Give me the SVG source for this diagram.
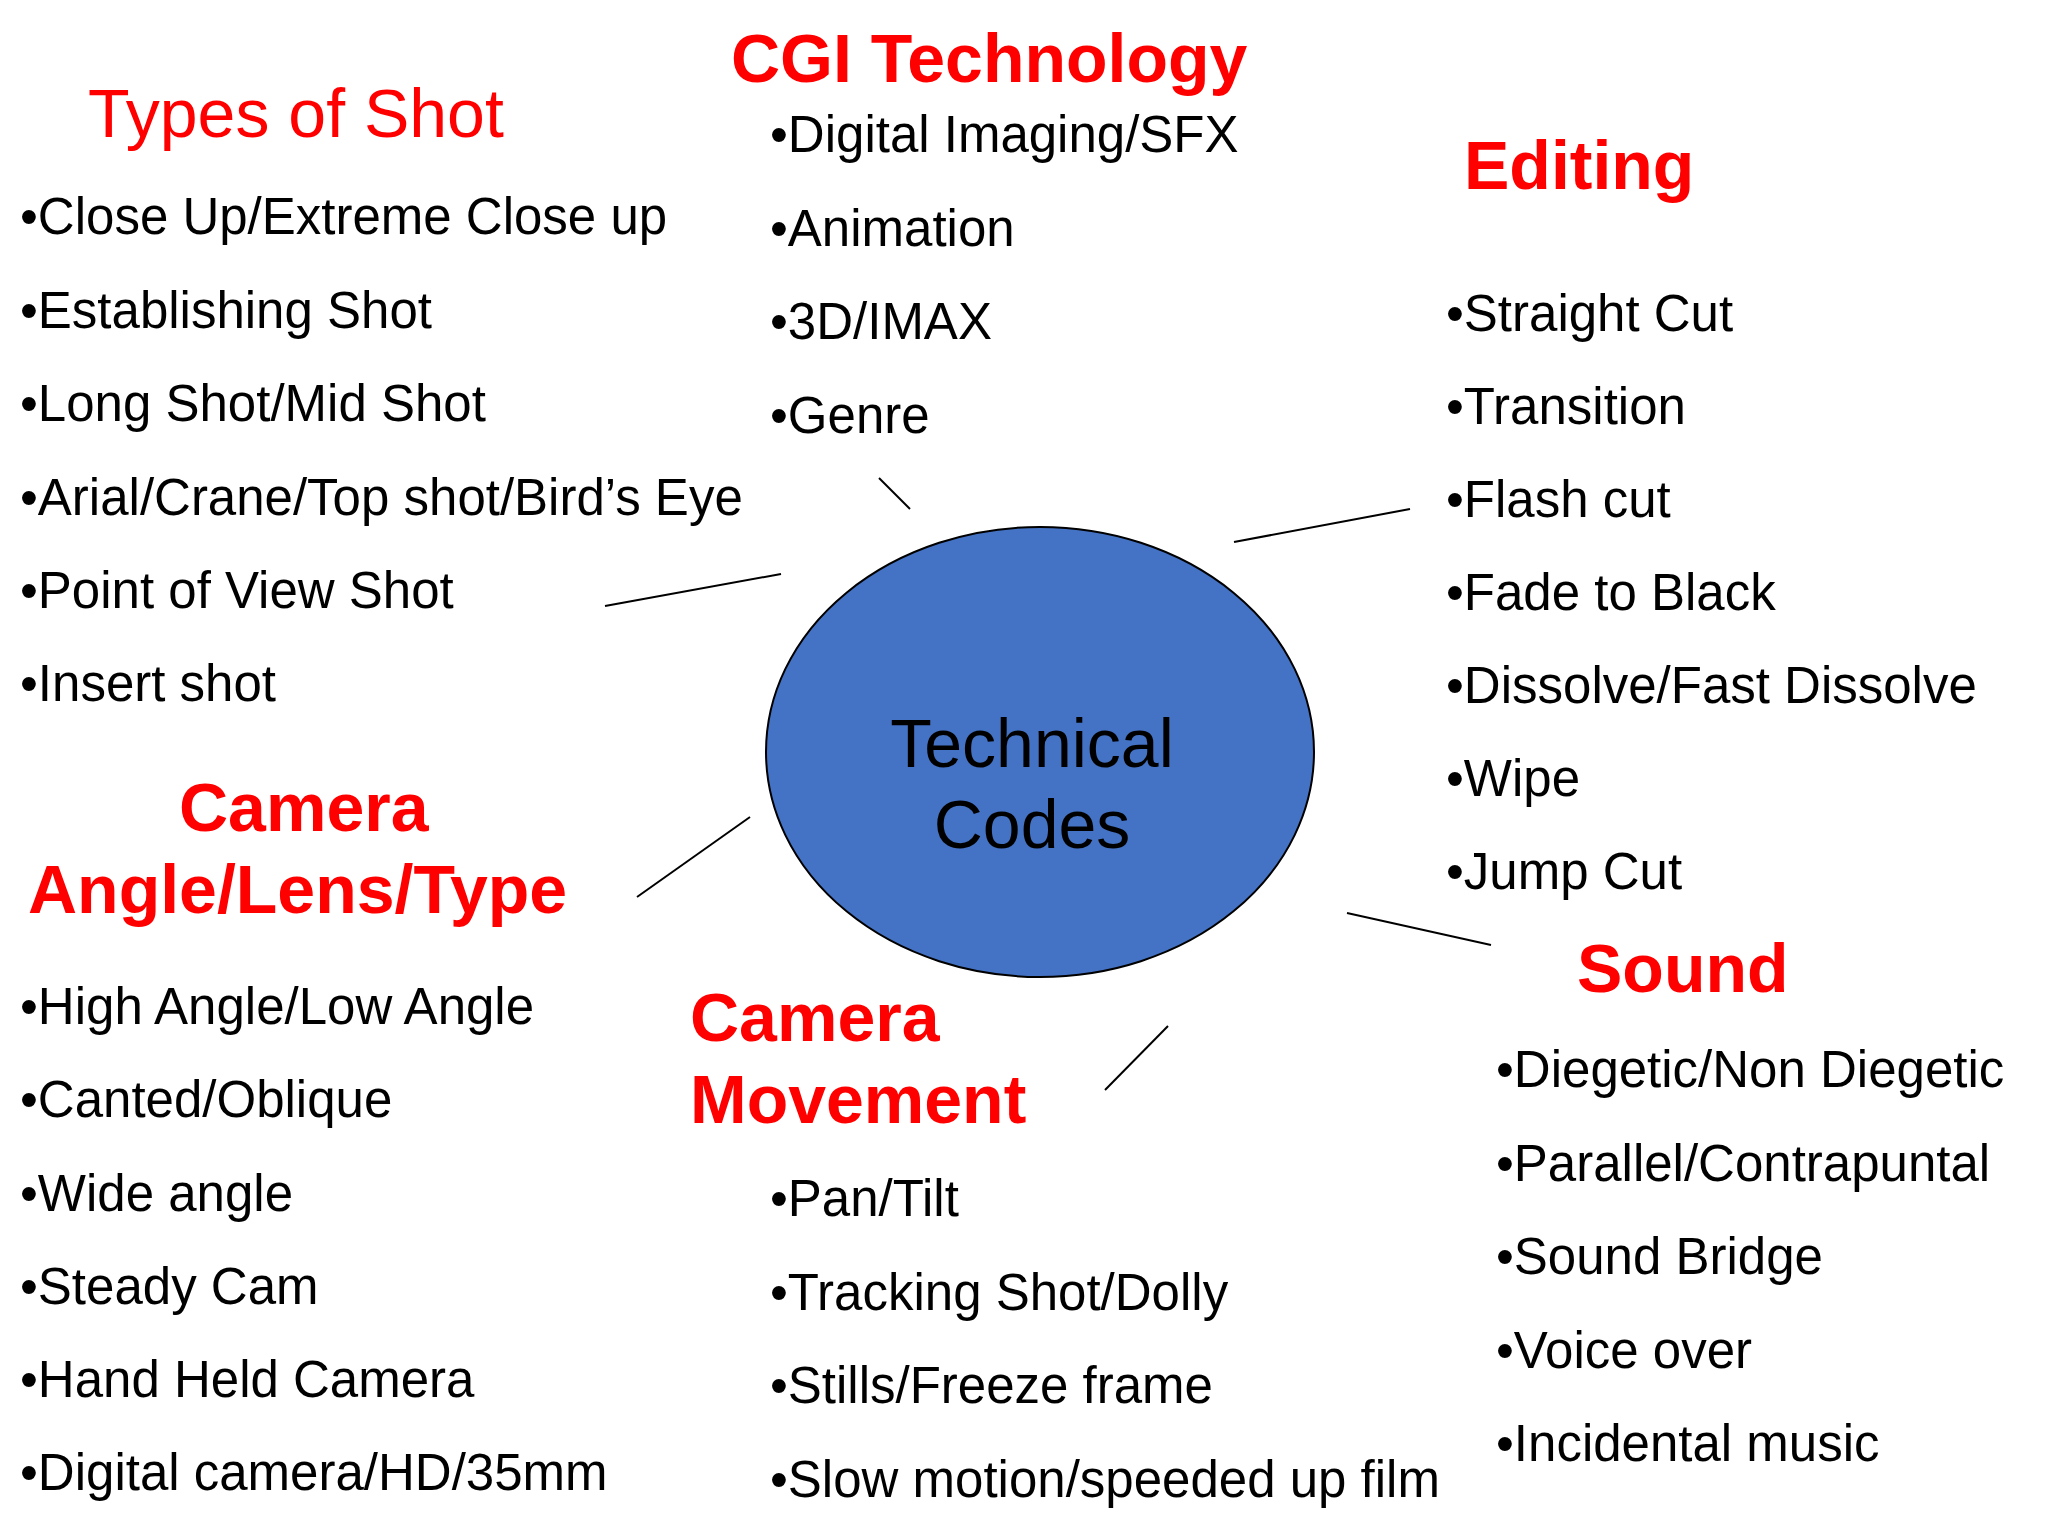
<svg xmlns="http://www.w3.org/2000/svg" width="2048" height="1536" viewBox="0 0 2048 1536">
<style>
text{font-family:"Liberation Sans",Arial,sans-serif}
.h{fill:#FF0000;font-size:68px}
.hb{fill:#FF0000;font-size:68px;font-weight:bold}
.b{fill:#000;font-size:51px}
.c{fill:#000;font-size:68px;text-anchor:middle}
.ln{stroke:#000;stroke-width:2;fill:none}
</style>
<rect width="2048" height="1536" fill="#FFFFFF"/>
<g id="connectors">
<line class="ln" x1="879" y1="478" x2="910" y2="509"/>
<line class="ln" x1="605" y1="606" x2="781" y2="574"/>
<line class="ln" x1="1234" y1="542" x2="1410" y2="509"/>
<line class="ln" x1="637" y1="897" x2="750" y2="817"/>
<line class="ln" x1="1105" y1="1090" x2="1168" y2="1026"/>
<line class="ln" x1="1347" y1="913" x2="1491" y2="945"/>
</g>
<g id="center">
<ellipse cx="1040" cy="752" rx="274" ry="225" fill="#4472C4" stroke="#000" stroke-width="2"/>
<text class="c" x="1032" y="767">Technical</text>
<text class="c" x="1032" y="848">Codes</text>
</g>
<g id="types-of-shot">
<text class="h" x="88" y="137">Types of Shot</text>
<text class="b" x="20" y="234">•Close Up/Extreme Close up</text>
<text class="b" x="20" y="328">•Establishing Shot</text>
<text class="b" x="20" y="421">•Long Shot/Mid Shot</text>
<text class="b" x="20" y="515">•Arial/Crane/Top shot/Bird’s Eye</text>
<text class="b" x="20" y="608">•Point of View Shot</text>
<text class="b" x="20" y="701">•Insert shot</text>
</g>
<g id="cgi-technology">
<text class="hb" x="731" y="82">CGI Technology</text>
<text class="b" x="770" y="152">•Digital Imaging/SFX</text>
<text class="b" x="770" y="246">•Animation</text>
<text class="b" x="770" y="339">•3D/IMAX</text>
<text class="b" x="770" y="433">•Genre</text>
</g>
<g id="editing">
<text class="hb" x="1464" y="189">Editing</text>
<text class="b" x="1446" y="331">•Straight Cut</text>
<text class="b" x="1446" y="424">•Transition</text>
<text class="b" x="1446" y="517">•Flash cut</text>
<text class="b" x="1446" y="610">•Fade to Black</text>
<text class="b" x="1446" y="703">•Dissolve/Fast Dissolve</text>
<text class="b" x="1446" y="796">•Wipe</text>
<text class="b" x="1446" y="889">•Jump Cut</text>
</g>
<g id="camera-angle">
<text class="hb" x="179" y="831">Camera</text>
<text class="hb" x="28" y="913">Angle/Lens/Type</text>
<text class="b" x="20" y="1024">•High Angle/Low Angle</text>
<text class="b" x="20" y="1117">•Canted/Oblique</text>
<text class="b" x="20" y="1211">•Wide angle</text>
<text class="b" x="20" y="1304">•Steady Cam</text>
<text class="b" x="20" y="1397">•Hand Held Camera</text>
<text class="b" x="20" y="1490">•Digital camera/HD/35mm</text>
</g>
<g id="camera-movement">
<text class="hb" x="690" y="1041">Camera</text>
<text class="hb" x="690" y="1123">Movement</text>
<text class="b" x="770" y="1216">•Pan/Tilt</text>
<text class="b" x="770" y="1310">•Tracking Shot/Dolly</text>
<text class="b" x="770" y="1403">•Stills/Freeze frame</text>
<text class="b" x="770" y="1497">•Slow motion/speeded up film</text>
</g>
<g id="sound">
<text class="hb" x="1577" y="992">Sound</text>
<text class="b" x="1496" y="1087">•Diegetic/Non Diegetic</text>
<text class="b" x="1496" y="1181">•Parallel/Contrapuntal</text>
<text class="b" x="1496" y="1274">•Sound Bridge</text>
<text class="b" x="1496" y="1368">•Voice over</text>
<text class="b" x="1496" y="1461">•Incidental music</text>
</g>
</svg>
